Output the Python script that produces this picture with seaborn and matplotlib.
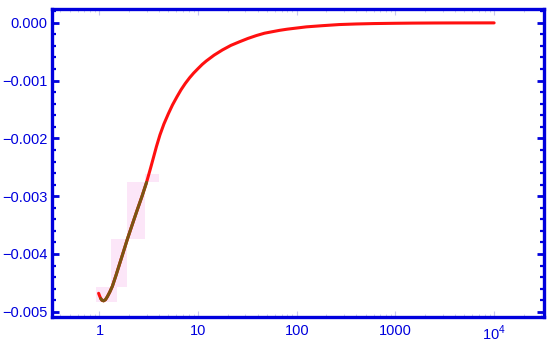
import matplotlib
matplotlib.use("Agg")
import matplotlib.pyplot as plt
import seaborn as sns
import pandas as pd
from matplotlib.ticker import FixedLocator, FixedFormatter, MultipleLocator, LogLocator, NullFormatter

# curve (log x)
x_vals = [0.98, 1.0, 1.03, 1.06, 1.1, 1.15, 1.2, 1.27, 1.35, 1.47, 1.6, 1.75, 1.92, 2.15,
          2.4, 2.7, 3.0, 3.3, 3.5, 3.78, 4.1, 4.5, 5.0, 5.5, 6.1, 6.7, 7.4, 8.2, 9.0,
          10, 11, 12.1, 14.5, 17.6, 21.5, 26.1, 32, 39, 47, 56, 67, 80, 100, 125, 180,
          270, 400, 600, 1000, 1500, 2500, 4000, 6500, 10000]
y_vals = [-0.00468, -0.00472, -0.00477, -0.00480, -0.00481, -0.00479, -0.00474, -0.00466,
          -0.00456, -0.00437, -0.00417, -0.00396, -0.00374, -0.00349, -0.00325, -0.00300,
          -0.00276, -0.00251, -0.00235, -0.00214, -0.00194, -0.00175, -0.00157, -0.00142,
          -0.00128, -0.00116, -0.00105, -0.00095, -0.00087, -0.00079, -0.00072, -0.00066,
          -0.00056, -0.00047, -0.00039, -0.00033, -0.00027, -0.00022, -0.00018,
          -0.000155, -0.00013, -0.00011, -0.00009, -0.00007, -0.00005, -0.00003,
          -0.00002, -0.000013, -0.000008, -0.000005, -0.000003, -0.000002, -0.0000015,
          -0.000001]

# highlighted stretch of the curve
hl_lo, hl_hi = 1.03, 3.0

# faint pink boxes behind the highlighted stretch
box_x0 = [0.93, 1.32, 1.92, 2.86]
box_x1 = [1.52, 1.92, 2.86, 4.05]
box_y0 = [-0.00483, -0.00457, -0.00374, -0.00276]
box_y1 = [-0.00457, -0.00374, -0.00276, -0.00262]

x_ticks = [1, 10, 100, 1000, 10000]
x_labels = ["1", "10", "100", "1000", "$10^4$"]
y_ticks = [-0.005, -0.004, -0.003, -0.002, -0.001, 0.0]
y_labels = ["\u22120.005", "\u22120.004", "\u22120.003", "\u22120.002", "\u22120.001", "0.000"]

BLUE = "#0000dd"

sns.set_style("white")
plt.rcParams["font.family"] = ["Liberation Sans", "DejaVu Sans"]
plt.rcParams["mathtext.fontset"] = "custom"
plt.rcParams["mathtext.rm"] = "Liberation Sans"

df = pd.DataFrame({"x": x_vals, "y": y_vals})
hl = df[(df.x >= hl_lo) & (df.x <= hl_hi)]

fig = plt.figure(figsize=(5.5, 3.44), dpi=100)
ax = fig.add_axes([0.0945, 0.0785, 0.8945, 0.8955])
ax.set_xscale("log")

for x0, x1, y0, y1 in zip(box_x0, box_x1, box_y0, box_y1):
    ax.fill_between([x0, x1], y0, y1, color="#fce6f8", linewidth=0, zorder=1)

sns.lineplot(data=df, x="x", y="y", ax=ax, color="#ff1010", linewidth=2.2,
             sort=False, estimator=None, zorder=3)
sns.lineplot(data=hl, x="x", y="y", ax=ax, color="#7a5512", linewidth=2.2,
             sort=False, estimator=None, zorder=4)

ax.set_xlim(0.33, 3.2e4)
ax.set_ylim(-0.00509, 0.00024)
ax.set_xlabel("")
ax.set_ylabel("")

for side in ["left", "right", "top", "bottom"]:
    ax.spines[side].set_color(BLUE)
    ax.spines[side].set_linewidth(2.4)

ax.xaxis.set_major_locator(FixedLocator(x_ticks))
ax.xaxis.set_major_formatter(FixedFormatter(x_labels))
ax.xaxis.set_minor_locator(LogLocator(base=10, subs=range(2, 10)))
ax.xaxis.set_minor_formatter(NullFormatter())
ax.yaxis.set_major_locator(FixedLocator(y_ticks))
ax.yaxis.set_major_formatter(FixedFormatter(y_labels))
ax.yaxis.set_minor_locator(MultipleLocator(0.0002))

ax.tick_params(axis="y", which="both", direction="in", left=True, right=True,
               color=BLUE, labelcolor=BLUE, labelsize=10.5, pad=3)
ax.tick_params(axis="y", which="major", length=5, width=2)
ax.tick_params(axis="y", which="minor", length=3, width=1.6)
ax.tick_params(axis="x", which="both", direction="in", bottom=True, top=True,
               color="#c8c8f0", labelcolor=BLUE, labelsize=10.5, pad=5)
ax.tick_params(axis="x", which="major", length=4, width=0.8)
ax.tick_params(axis="x", which="minor", length=2, width=0.6)

fig.savefig("out.png", dpi=100)
